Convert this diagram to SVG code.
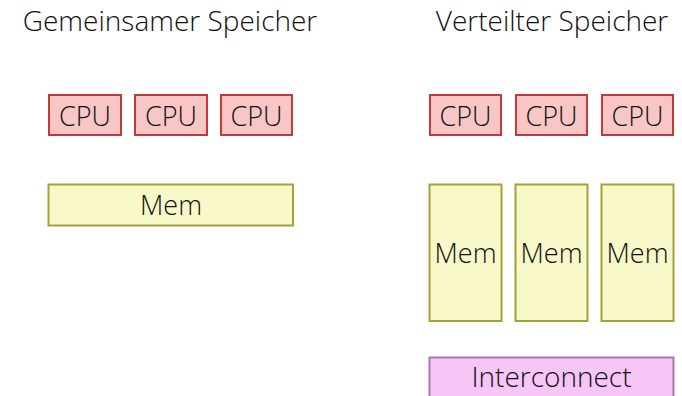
<svg xmlns="http://www.w3.org/2000/svg" width="682" height="396" viewBox="0 0 682 396">
<style>
text{font-family:"Open Sans","Noto Sans",sans-serif;font-weight:300;font-size:27px;fill:#111;text-anchor:middle}
.title{font-size:28px}
.cpu{fill:#f9c6c6;stroke:#c43a3a;stroke-width:2}
.mem{fill:#f8f8c8;stroke:#a2a23c;stroke-width:2}
.ic{fill:#f7c6f7;stroke:#a878a8;stroke-width:2}
</style>
<rect width="682" height="396" fill="#fff"/>
<g id="title-left"><text class="title" x="170" y="31">Gemeinsamer Speicher</text></g>
<g id="title-right"><text class="title" x="552" y="31">Verteilter Speicher</text></g>
<g id="cpu-l1"><rect class="cpu" x="49" y="95" width="72" height="40"/><text x="85" y="126">CPU</text></g>
<g id="cpu-l2"><rect class="cpu" x="135" y="95" width="72" height="40"/><text x="171" y="126">CPU</text></g>
<g id="cpu-l3"><rect class="cpu" x="221" y="95" width="71" height="40"/><text x="256.5" y="126">CPU</text></g>
<g id="mem-l"><rect class="mem" x="48.5" y="184.5" width="244.5" height="41"/><text x="171" y="215">Mem</text></g>
<g id="cpu-r1"><rect class="cpu" x="430" y="95" width="71" height="40"/><text x="465.5" y="126">CPU</text></g>
<g id="cpu-r2"><rect class="cpu" x="516" y="95" width="71" height="40"/><text x="551.5" y="126">CPU</text></g>
<g id="cpu-r3"><rect class="cpu" x="602" y="95" width="71" height="40"/><text x="637.5" y="126">CPU</text></g>
<g id="mem-r1"><rect class="mem" x="429.5" y="184.5" width="72" height="136.5"/><text x="465.5" y="263">Mem</text></g>
<g id="mem-r2"><rect class="mem" x="515.5" y="184.5" width="72" height="136.5"/><text x="551.5" y="263">Mem</text></g>
<g id="mem-r3"><rect class="mem" x="601.5" y="184.5" width="72" height="136.5"/><text x="637.5" y="263">Mem</text></g>
<g id="interconnect"><rect class="ic" x="429.5" y="357.5" width="244" height="41"/><text x="551.5" y="387" textLength="160" lengthAdjust="spacingAndGlyphs">Interconnect</text></g>
<g id="connectors"></g>
</svg>
